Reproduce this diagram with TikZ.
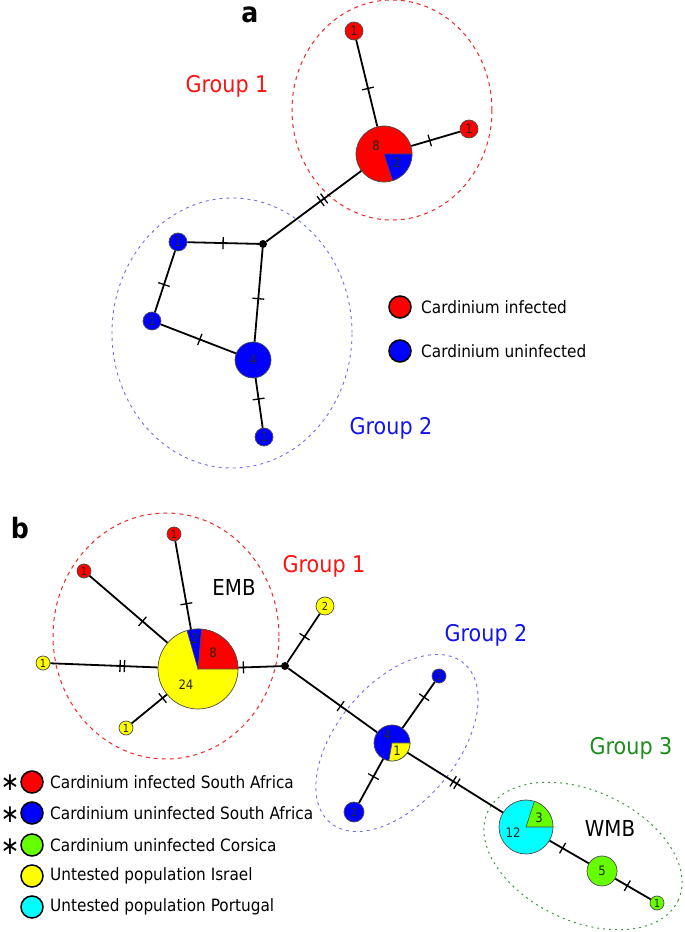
\documentclass[tikz,border=0pt]{standalone}
\usepackage{fontspec}
\setmainfont{DejaVu Sans}[FakeStretch=0.9]
\usetikzlibrary{decorations.markings}
\definecolor{hred}{RGB}{255,0,0}
\definecolor{hblue}{RGB}{0,0,255}
\definecolor{hgreen}{RGB}{102,255,0}
\definecolor{hyellow}{RGB}{255,255,0}
\definecolor{hcyan}{RGB}{0,255,255}
\definecolor{tred}{RGB}{250,20,20}
\definecolor{tblue}{RGB}{20,20,235}
\definecolor{tgreen}{RGB}{30,140,30}
\definecolor{ered}{RGB}{240,40,40}
\definecolor{eblue}{RGB}{110,110,240}
\definecolor{egreen}{RGB}{70,150,70}
\newcommand{\pieslice}[5]{\filldraw[fill=#1, draw=black!70, line width=0.6pt] (#2) -- ++(#3:#5) arc[start angle=#3, end angle=#4, radius=#5] -- cycle;}
\tikzset{
  hap/.style={circle, draw=black!70, line width=0.7pt, inner sep=0pt, minimum size=#1, text=black!85, font=\fontsize{13}{13}\selectfont},
  smallhap/.style={hap=#1, font=\fontsize{11}{11}\selectfont},
  junc/.style={circle, fill=black, inner sep=0pt, minimum size=8pt},
  numtxt/.style={inner sep=0pt, text=black!85, font=\fontsize{13}{13}\selectfont},
  edge/.style={line width=1.8pt, black},
  onetick/.style={postaction={decorate, decoration={markings, mark=at position #1 with {\draw[line width=1.3pt, black] (0pt,-6pt)--(0pt,6pt);}}}},
  twotick/.style={postaction={decorate, decoration={markings, mark=at position #1 with {\draw[line width=1.3pt, black] (-2.2pt,-6pt)--(-2.2pt,6pt) (2.2pt,-6pt)--(2.2pt,6pt);}}}},
  grp/.style={inner sep=0pt, font=\fontsize{23}{23}\selectfont},
  reg/.style={inner sep=0pt, font=\fontsize{22}{22}\selectfont},
  panel/.style={inner sep=0pt, font=\fontsize{28}{28}\selectfont\bfseries},
  legc/.style={circle, draw=black, line width=1.5pt, inner sep=0pt, minimum size=22pt},
  legt/.style={anchor=west, inner sep=0pt, font=\fontsize{17}{17}\selectfont},
  star/.style={inner sep=0pt, font=\fontsize{25}{25}\selectfont},
  redell/.style={ered, line width=1pt, dash pattern=on 4pt off 4pt},
  blueell/.style={eblue, line width=0.9pt, dash pattern=on 3pt off 4pt},
  greenell/.style={egreen, line width=1pt, dash pattern=on 2pt off 4pt}
}
\begin{document}
\begin{tikzpicture}[x=1pt, y=1pt]
\fill[white] (0,0) rectangle (685,932);
\useasboundingbox (0,0) rectangle (685,932);

% ================= panel a =================
\node[panel] (alab) at (250,917) {a};
\draw[redell] (392,822) ellipse[x radius=100, y radius=110];
\draw[blueell] (232,599) ellipse[x radius=120, y radius=135];
\node[grp, text=tred] (ga1) at (227,846) {Group 1};
\node[grp, text=tblue] (ga2) at (391,504) {Group 2};

\node[hap=18pt, fill=hred] (ar1) at (354,901) {1};
\node[hap=56pt, fill=hred] (ap8) at (384,778) {};
\node[hap=18pt, fill=hred] (ar2) at (469,803) {1};
\node[junc] (aj) at (263,688) {};
\node[hap=18pt, fill=hblue] (ab1) at (178,690) {1};
\node[hap=18pt, fill=hblue] (ab2) at (152,611) {1};
\node[hap=36pt, fill=hblue] (ab4) at (253,572) {4};
\node[hap=18pt, fill=hblue] (ab3) at (264,495) {1};
\pieslice{hblue}{ap8.center}{-72}{0}{28}
\node[numtxt] (ap8a) at (376,786) {8};
\node[numtxt] (ap8b) at (397,769) {2};

\draw[edge, onetick=0.44] (ap8) -- (ar1);
\draw[edge, onetick=0.38] (ap8) -- (ar2);
\draw[edge, twotick=0.41] (ap8) -- (aj);
\draw[edge, onetick=0.5] (aj) -- (ab1);
\draw[edge, onetick=0.55] (ab1) -- (ab2);
\draw[edge, onetick=0.52] (ab2) -- (ab4);
\draw[edge, onetick=0.54] (aj) -- (ab4);
\draw[edge, onetick=0.42] (ab4) -- (ab3);

\node[legc, fill=hred] (alc1) at (400,625) {};
\node[legt] (alt1) at (421,625) {Cardinium infected};
\node[legc, fill=hblue] (alc2) at (400,581) {};
\node[legt] (alt2) at (421,581) {Cardinium uninfected};

% ================= panel b =================
\node[panel] (blab) at (20,404) {b};
\draw[redell] (166,296) ellipse[x radius=113, y radius=123];
\draw[blueell, rotate around={50:(397,189)}] (397,189) ellipse[x radius=104, y radius=60];
\draw[greenell, rotate around={-25:(583,76)}] (583,76) ellipse[x radius=105, y radius=65];
\node[grp, text=tred] (gb1) at (324,366) {Group 1};
\node[grp, text=tblue] (gb2) at (486,297) {Group 2};
\node[grp, text=tgreen] (gb3) at (631,184) {Group 3};
\node[reg] (emb) at (234,345) {EMB};
\node[reg] (wmb) at (610,104) {WMB};

\node[smallhap=14pt, fill=hred] (br1) at (174,398) {1};
\node[smallhap=14pt, fill=hred] (br2) at (84,361) {1};
\node[smallhap=18pt, fill=hyellow] (by2) at (325,326) {2};
\node[smallhap=14pt, fill=hyellow] (by1) at (43,269) {1};
\node[smallhap=14pt, fill=hyellow] (by3) at (126,204) {1};
\node[hap=80pt, fill=hyellow] (bpe) at (198,263) {};
\node[junc] (bj) at (285,266) {};
\node[hap=36pt, fill=hblue] (bp4) at (392,189) {};
\node[smallhap=14pt, fill=hblue] (bb1) at (439,256) {1};
\node[smallhap=20pt, fill=hblue] (bb2) at (354,120) {2};
\node[hap=54pt, fill=hcyan] (bcy) at (526,105) {};
\node[hap=30pt, fill=hgreen] (bg5) at (602,61) {5};
\node[smallhap=14pt, fill=hgreen] (bg1) at (657,29) {1};

\pieslice{hred}{bpe.center}{0}{85}{40}
\pieslice{hblue}{bpe.center}{85}{106}{40}
\pieslice{hyellow}{bp4.center}{-100}{0}{18}
\pieslice{hgreen}{bcy.center}{0}{72}{27}
\node[numtxt] (bpea) at (213,279) {8};
\node[numtxt] (bpeb) at (195,293) {2};
\node[numtxt] (bpec) at (186,247) {24};
\node[numtxt] (bp4a) at (387,197) {4};
\node[numtxt] (bp4b) at (397,181) {1};
\node[numtxt] (bcya) at (539,114) {3};
\node[numtxt] (bcyb) at (513,99) {12};

\draw[edge, onetick=0.29] (bpe) -- (br1);
\draw[edge, onetick=0.32] (bpe) -- (br2);
\draw[edge, twotick=0.33] (bpe) -- (by1);
\draw[edge, onetick=0.12] (bpe) -- (by3);
\draw[edge, onetick=0.12] (bpe) -- (bj);
\draw[edge, onetick=0.53] (bj) -- (by2);
\draw[edge, onetick=0.59] (bj) -- (bp4);
\draw[edge, onetick=0.67] (bp4) -- (bb1);
\draw[edge, onetick=0.40] (bp4) -- (bb2);
\draw[edge, twotick=0.5] (bp4) -- (bcy);
\draw[edge, onetick=0.33] (bcy) -- (bg5);
\draw[edge, onetick=0.34] (bg5) -- (bg1);

\node[star] (s1) at (10,149) {∗};
\node[star] (s2) at (10,117) {∗};
\node[star] (s3) at (10,85) {∗};
\node[legc, fill=hred] (blc1) at (32,150) {};
\node[legc, fill=hblue] (blc2) at (32,119) {};
\node[legc, fill=hgreen] (blc3) at (32,87) {};
\node[legc, fill=hyellow] (blc4) at (32,56) {};
\node[legc, fill=hcyan] (blc5) at (32,25) {};
\node[legt] (blt1) at (50,150) {Cardinium infected South Africa};
\node[legt] (blt2) at (50,119) {Cardinium uninfected South Africa};
\node[legt] (blt3) at (50,87) {Cardinium uninfected Corsica};
\node[legt] (blt4) at (50,56) {Untested population Israel};
\node[legt] (blt5) at (50,25) {Untested population Portugal};
\end{tikzpicture}
\end{document}
